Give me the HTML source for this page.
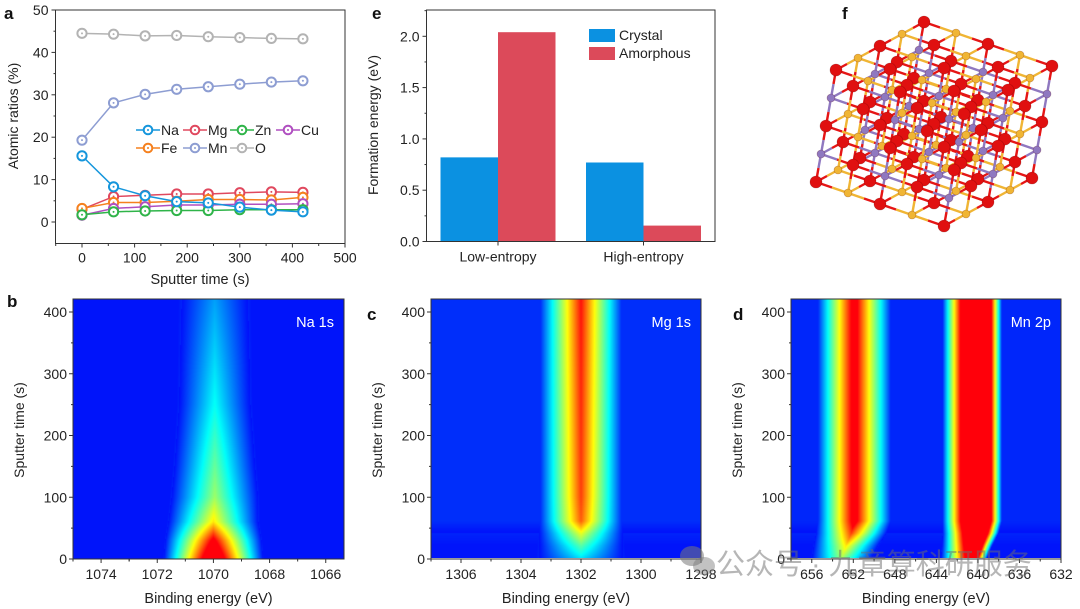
<!DOCTYPE html>
<html><head><meta charset="utf-8">
<style>
html,body{margin:0;padding:0;background:#fff;}
#wrap{position:relative;width:1080px;height:609px;overflow:hidden;font-family:"Liberation Sans",Arial,sans-serif;}
canvas{position:absolute;}
svg{position:absolute;left:0;top:0;}
text{font-family:"Liberation Sans",Arial,sans-serif;}
</style></head>
<body>
<div id="wrap">
<canvas id="hb" width="271" height="260" style="left:73px;top:299px"></canvas>
<canvas id="hc" width="270" height="259" style="left:431px;top:299px"></canvas>
<canvas id="hd" width="270" height="259" style="left:791px;top:299px"></canvas>
<svg id="svg" width="1080" height="609" xmlns="http://www.w3.org/2000/svg"></svg>
</div>
<script>
// ---------- Panel a data ----------
const times = [0,60,120,180,240,300,360,420];
const seriesNames = ["Na","Mg","Zn","Cu","Fe","Mn","O"];
const naVals = [15.6,8.3,6.2,4.8,4.5,3.5,2.8,2.4];
const mgVals = [3.0,6.0,6.3,6.6,6.6,6.9,7.1,7.0];
const znVals = [1.7,2.4,2.6,2.7,2.7,2.9,2.9,2.9];
const cuVals = [1.6,3.2,3.6,4.0,4.0,4.2,4.2,4.3];
const feVals = [3.2,4.6,4.6,4.9,5.3,5.3,5.2,5.8];
const mnVals = [19.3,28.1,30.1,31.3,31.9,32.5,33.0,33.3];
const oVals  = [44.5,44.3,43.9,44.0,43.7,43.5,43.3,43.2];
const aYTicks = [0,10,20,30,40,50];
const aXTicks = [0,100,200,300,400,500];
// ---------- Panel e data ----------
const eCategories = ["Low-entropy","High-entropy"];
const crystalVals = [0.82,0.77];
const amorphousVals = [2.04,0.155];
const eYTicks = [0.0,0.5,1.0,1.5,2.0];
// ---------- Heatmap data (peak parameters per sputter-time knot) ----------
const naKnots = [0,30,60,100,150,250,420];
const naCentre = [1070.0,1070.0,1070.0,1069.95,1069.95,1069.95,1069.95];
const naAmp = [1.3,1.05,0.7,0.54,0.47,0.34,0.21];
const naWidth = [1.8,1.75,1.65,1.6,1.5,1.35,1.3];
const mgKnots = [0,20,40,60,100,420];
const mgCentre = [1302.0,1302.0,1302.0,1302.0,1302.0,1302.0];
const mgAmp = [0.3,0.45,0.62,0.82,0.86,0.92];
const mgWidth = [1.5,1.45,1.4,1.35,1.35,1.35];
const mgBase = [0.0,0.0,0.02,0.06,0.06,0.06];
const mnKnots = [0,20,40,60,420];
const mnACentre = [653.1,652.7,652.2,651.9,651.9];
const mnAAmp = [0.55,0.7,0.9,1.04,1.04];
const mnAWidth = [3.0,3.2,3.4,3.5,3.5];
const mnBCentre = [640.3,640.1,639.9,639.8,639.8];
const mnBAmp = [1.4,1.6,1.8,2.0,2.0];
const mnBLeftWidth = [3.3,3.4,3.5,3.6,3.6];
const mnBRightWidth = [1.2,1.5,1.9,2.1,2.1];
const mnBase = [0.0,0.0,0.02,0.05,0.05];
const bXTicks = [1074,1072,1070,1068,1066];
const cXTicks = [1306,1304,1302,1300,1298];
const dXTicks = [656,652,648,644,640,636,632];
const hYTicks = [0,100,200,300,400];

const NS="http://www.w3.org/2000/svg";
const svg=document.getElementById('svg');
function el(tag,attrs,parent,txt){const e=document.createElementNS(NS,tag);for(const k in attrs)e.setAttribute(k,attrs[k]);if(txt!==undefined)e.textContent=txt;(parent||svg).appendChild(e);return e;}
function group(name){const g=el('g',{});return g;}

// ================= Panel a =================
(function(){
  const g=group('panel-a-line-chart');
  const X0=55.5,X1=345,Y0=10,Y1=243.5;
  const xs=v=>82+v*(263/500);
  const ys=v=>222-v*4.24;
  el('rect',{x:X0,y:Y0,width:X1-X0,height:Y1-Y0,fill:'none',stroke:'#333','stroke-width':1},g);
  const yt=group('a-y-axis');g.appendChild(yt);
  aYTicks.forEach(v=>{const y=ys(v);el('line',{x1:X0-4,x2:X0,y1:y,y2:y,stroke:'#333'},yt);
    el('text',{x:X0-7,y:y+5,'text-anchor':'end','font-size':14,fill:'#222'},yt,String(v));
    if(v<50){const m=ys(v+5);el('line',{x1:X0-2,x2:X0,y1:m,y2:m,stroke:'#333'},yt);}});
  const xt=group('a-x-axis');g.appendChild(xt);
  aXTicks.forEach(v=>{const x=xs(v);el('line',{x1:x,x2:x,y1:Y1,y2:Y1+4,stroke:'#333'},xt);
    el('text',{x:x,y:Y1+19,'text-anchor':'middle','font-size':14,fill:'#222'},xt,String(v));
    const m=xs(v-50);el('line',{x1:m,x2:m,y1:Y1,y2:Y1+2.5,stroke:'#333'},xt);});
  const t1=el('text',{x:200,y:284,'text-anchor':'middle','font-size':14.5,fill:'#222'},g,'Sputter time (s)');
  
  const t2=el('text',{x:0,y:0,transform:'translate(18,116) rotate(-90)','text-anchor':'middle','font-size':14,fill:'#222'},g,'Atomic ratios (%)');
  
  const all=[naVals,mgVals,znVals,cuVals,feVals,mnVals,oVals];
  const cols=['#1596dc','#e0485e','#2fb449','#b04fc0','#f5801e','#8d9dd2','#b3b3b3'];
  const order=[6,5,1,4,3,2,0];
  order.forEach(si=>{
    const sg=group('series-'+seriesNames[si].toLowerCase());g.appendChild(sg);
    const vals=all[si];
    el('polyline',{points:times.map((t,i)=>xs(t)+','+ys(vals[i])).join(' '),fill:'none',stroke:cols[si],'stroke-width':1.5},sg);
    times.forEach((t,i)=>{const c=el('circle',{cx:xs(t),cy:ys(vals[i]),r:4.6,fill:'#fff',stroke:cols[si],'stroke-width':2},sg);
      
      el('circle',{cx:xs(t),cy:ys(vals[i]),r:1,fill:cols[si]},sg);});
  });
  const lg=group('a-legend');g.appendChild(lg);
  const lp=[[136,130],[183,130],[230,130],[276,130],[136,148],[183,148],[230,148]];
  [0,1,2,3,4,5,6].forEach((si,k)=>{const [x,y]=lp[k];
    const e=group('legend-entry-'+seriesNames[si].toLowerCase());lg.appendChild(e);
    el('line',{x1:x,x2:x+24,y1:y,y2:y,stroke:cols[si],'stroke-width':1.5},e);
    el('circle',{cx:x+12,cy:y,r:4.3,fill:'#fff',stroke:cols[si],'stroke-width':2},e);
    el('circle',{cx:x+12,cy:y,r:1,fill:cols[si]},e);
    el('text',{x:x+25,y:y+5,'font-size':14,fill:'#222'},e,seriesNames[si]);});
  const L=el('text',{x:4,y:19,'font-size':17,'font-weight':'bold',fill:'#111'},g,'a');
  
})();

// ================= Panel e =================
(function(){
  const g=group('panel-e-bar-chart');
  const X0=426.5,X1=715,Y0=10,Y1=241.5;
  const ys=v=>241.5-v*102.6;
  const cx=[498,643.5];const bw=57.5;
  crystalVals.forEach((v,i)=>{const r=el('rect',{x:cx[i]-bw,y:ys(v),width:bw,height:ys(0)-ys(v),fill:'#0b91e1'},g);
    });
  amorphousVals.forEach((v,i)=>{const r=el('rect',{x:cx[i],y:ys(v),width:bw,height:ys(0)-ys(v),fill:'#dc4a5a'},g);
    });
  el('rect',{x:X0,y:Y0,width:X1-X0,height:Y1-Y0,fill:'none',stroke:'#333'},g);
  const yt=group('e-y-axis');g.appendChild(yt);
  eYTicks.forEach(v=>{const y=ys(v);el('line',{x1:X0-4,x2:X0,y1:y,y2:y,stroke:'#333'},yt);
    el('text',{x:X0-7,y:y+5,'text-anchor':'end','font-size':14,fill:'#222'},yt,v.toFixed(1));
    const m=ys(v+0.25);if(m>Y0)el('line',{x1:X0-2,x2:X0,y1:m,y2:m,stroke:'#333'},yt);});
  eCategories.forEach((c,i)=>{el('line',{x1:cx[i],x2:cx[i],y1:Y1,y2:Y1+4,stroke:'#333'},g);
    const t=el('text',{x:cx[i],y:Y1+20,'text-anchor':'middle','font-size':14,fill:'#222'},g,c);
    });
  const t2=el('text',{x:0,y:0,transform:'translate(378,125) rotate(-90)','text-anchor':'middle','font-size':14,fill:'#222'},g,'Formation energy (eV)');
  
  const lg=group('e-legend');g.appendChild(lg);
  el('rect',{x:589,y:29,width:26,height:13,fill:'#0b91e1'},lg);
  el('text',{x:619,y:40,'font-size':14,fill:'#222'},lg,'Crystal');
  el('rect',{x:589,y:47,width:26,height:13,fill:'#dc4a5a'},lg);
  el('text',{x:619,y:58,'font-size':14,fill:'#222'},lg,'Amorphous');
  const L=el('text',{x:372,y:19,'font-size':17,'font-weight':'bold',fill:'#111'},g,'e');
  
})();

// ================= Panel f (crystal structure, decorative) =================
(function(){
  const g=group('panel-f-crystal-structure');
  const L=el('text',{x:842,y:19,'font-size':17,'font-weight':'bold',fill:'#111'},g,'f');
  
  const ax=[32,11],ay=[22,-12],az=[-5,28],o=[836,70];
  const P=(i,j,k)=>[o[0]+i*ax[0]+j*ay[0]+k*az[0],o[1]+i*ax[1]+j*ay[1]+k*az[1]];
  const N=4;const atoms=[];const bonds=[];
  for(let i=0;i<=N;i++)for(let j=0;j<=N;j++)for(let k=0;k<=N;k++){
    if((i+j+k)%2===0)atoms.push({p:P(i,j,k),c:'#e01010',r:6,d:i-j+k});
    else{const col=(k%2===0)?'#f0b534':'#8f78c0';atoms.push({p:P(i,j,k),c:col,r:4,d:i-j+k});
      [[1,0,0],[-1,0,0],[0,1,0],[0,-1,0],[0,0,1],[0,0,-1]].forEach(dv=>{const a=i+dv[0],b=j+dv[1],c=k+dv[2];
        if(a>=0&&a<=N&&b>=0&&b<=N&&c>=0&&c<=N)bonds.push([P(i,j,k),P(a,b,c),col]);});}
  }
  bonds.forEach(b=>{const m=[(b[0][0]+b[1][0])/2,(b[0][1]+b[1][1])/2];
    el('line',{x1:b[0][0],y1:b[0][1],x2:m[0],y2:m[1],stroke:b[2],'stroke-width':2.4},g);
    el('line',{x1:m[0],y1:m[1],x2:b[1][0],y2:b[1][1],stroke:'#e51515','stroke-width':2.4},g);});
  atoms.sort((a,b)=>a.d-b.d).forEach(a=>{el('circle',{cx:a.p[0],cy:a.p[1],r:a.r,fill:a.c,stroke:'rgba(90,0,0,0.35)','stroke-width':0.6},g);});
})();

// ================= Heatmaps =================
function interp(kn,arr,t){if(t<=kn[0])return arr[0];for(let i=1;i<kn.length;i++){if(t<=kn[i]){const f=(t-kn[i-1])/(kn[i]-kn[i-1]);return arr[i-1]+f*(arr[i]-arr[i-1]);}}return arr[arr.length-1];}
function jet(v){const c=x=>Math.max(0,Math.min(1,x));return [c(1.5-Math.abs(4*v-3)),c(1.5-Math.abs(4*v-2)),c(1.5-Math.abs(4*v-1))];}
function tri(x,c,a,w){const d=Math.abs(x-c);return d>=w?0:a*(1-d/w);}
function tri2(x,c,a,wl,wr){const d=x-c;const w=d>0?wl:wr;const ad=Math.abs(d);return ad>=w?0:a*(1-ad/w);}
function drawHeat(id,eL,eR,fn){
  const cv=document.getElementById(id),ctx=cv.getContext('2d'),W=cv.width,H=cv.height;
  const img=ctx.createImageData(W,H);
  for(let py=0;py<H;py++){const t=421*(1-(py+0.5)/H);
    for(let px=0;px<W;px++){const e=eL+(eR-eL)*(px+0.5)/W;const v=Math.min(1,Math.max(0,fn(e,t)));
      const col=jet(0.125+0.75*v);const o=(py*W+px)*4;
      img.data[o]=col[0]*255;img.data[o+1]=col[1]*255+(v<0.02?20:0);img.data[o+2]=col[2]*240+10;img.data[o+3]=255;}}
  ctx.putImageData(img,0,0);
}
drawHeat('hb',1075,1065.35,(e,t)=>tri(e,interp(naKnots,naCentre,t),interp(naKnots,naAmp,t),interp(naKnots,naWidth,t)));
drawHeat('hc',1307,1298,(e,t)=>interp(mgKnots,mgBase,t)+tri(e,interp(mgKnots,mgCentre,t),interp(mgKnots,mgAmp,t),interp(mgKnots,mgWidth,t)));
drawHeat('hd',658,632,(e,t)=>interp(mnKnots,mnBase,t)+tri(e,interp(mnKnots,mnACentre,t),interp(mnKnots,mnAAmp,t),interp(mnKnots,mnAWidth,t))+tri2(e,interp(mnKnots,mnBCentre,t),interp(mnKnots,mnBAmp,t),interp(mnKnots,mnBLeftWidth,t),interp(mnKnots,mnBRightWidth,t)));

function heatAxes(name,X0,X1,eL,eR,xt,label,letter,lx,ly,lbx){
  const g=group(name);
  const Y0=299,Y1=559;
  const ys=v=>559-v*0.6175;const xs=e=>X0+(e-eL)/(eR-eL)*(X1-X0);
  el('rect',{x:X0,y:Y0,width:X1-X0,height:Y1-Y0,fill:'none',stroke:'#333'},g);
  hYTicks.forEach(v=>{const y=ys(v);el('line',{x1:X0-4,x2:X0,y1:y,y2:y,stroke:'#333'},g);
    el('text',{x:X0-6,y:y+5,'text-anchor':'end','font-size':14,fill:'#222'},g,String(v));
    const m=ys(v+50);if(m>Y0)el('line',{x1:X0-2,x2:X0,y1:m,y2:m,stroke:'#333'},g);});
  const step=xt[1]-xt[0];
  xt.forEach(v=>{const x=xs(v);el('line',{x1:x,x2:x,y1:Y1,y2:Y1+4,stroke:'#333'},g);
    el('text',{x:x,y:Y1+20,'text-anchor':'middle','font-size':14,fill:'#222'},g,String(v));
    const m=xs(v-step/2);if(m<X1)el('line',{x1:m,x2:m,y1:Y1,y2:Y1+2.5,stroke:'#333'},g);});
  const mm=xs(xt[0]+step/2);if(mm>X0)el('line',{x1:mm,x2:mm,y1:Y1,y2:Y1+2.5,stroke:'#333'},g);
  const t1=el('text',{x:(X0+X1)/2,y:603,'text-anchor':'middle','font-size':14.5,fill:'#222'},g,'Binding energy (eV)');
  
  const t2=el('text',{x:0,y:0,transform:'translate('+lx+',430) rotate(-90)','text-anchor':'middle','font-size':14,fill:'#222'},g,'Sputter time (s)');
  
  const t3=el('text',{x:X1-10,y:327,'text-anchor':'end','font-size':14.5,fill:'#fff'},g,label);
  
  const t4=el('text',{x:lbx,y:ly,'font-size':17,'font-weight':'bold',fill:'#111'},g,letter);
  
}
heatAxes('panel-b-na-heatmap',73,344,1075,1065.35,bXTicks,'Na 1s','b',24,307,7);
heatAxes('panel-c-mg-heatmap',431,701,1307,1298,cXTicks,'Mg 1s','c',382,320,367);
heatAxes('panel-d-mn-heatmap',791,1061,658,632,dXTicks,'Mn 2p','d',742,320,733);

// watermark
const wm=group('watermark');
el('ellipse',{cx:692,cy:556,rx:12,ry:10,fill:'rgba(120,120,120,0.55)'},wm);
el('ellipse',{cx:704,cy:566,rx:11,ry:9,fill:'rgba(120,120,120,0.45)'},wm);
el('text',{x:716,y:574,'font-size':29,fill:'rgba(110,110,110,0.5)',style:'font-family:"Liberation Sans","Noto Sans CJK SC",sans-serif'},wm,'公众号 · 九章算科研服务');
</script>
</body></html>
